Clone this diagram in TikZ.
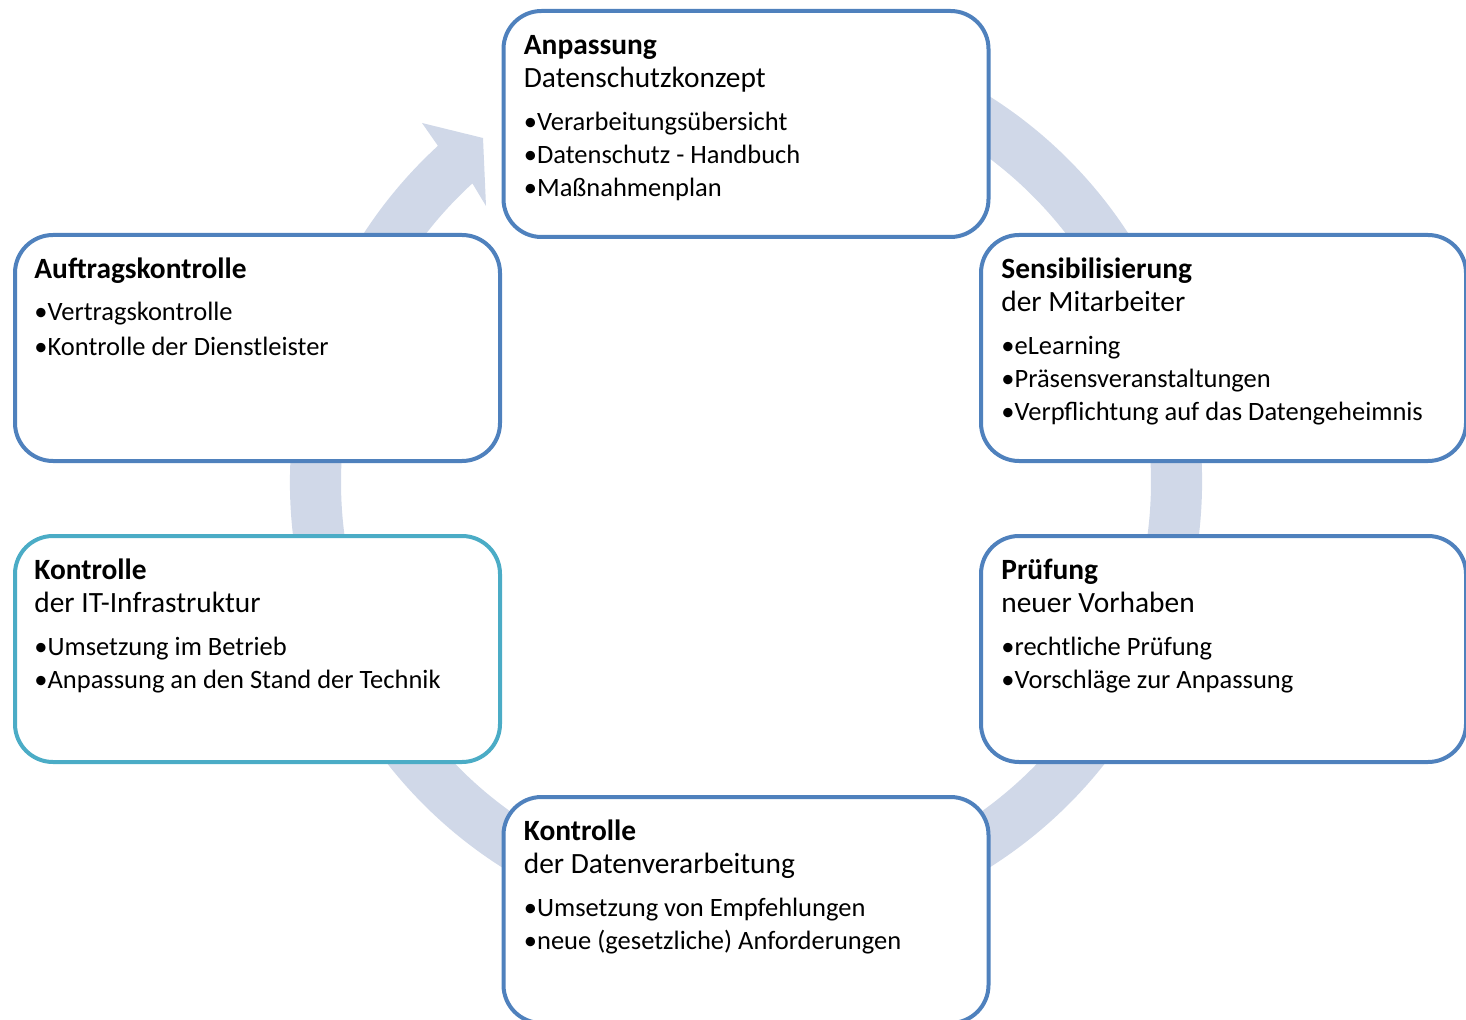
\documentclass[tikz,border=0pt]{standalone}
\usepackage{fontspec}
\setmainfont{Carlito}
\definecolor{kasten}{HTML}{4F81BD}
\definecolor{kastenit}{HTML}{4BACC6}
\definecolor{ring}{HTML}{D0D8E8}
\newcommand{\kopf}[1]{{\fontsize{14.7pt}{16.5pt}\selectfont #1}}

\begin{document}
\begin{tikzpicture}[x=0.5pt, y=0.5pt,
	stufe/.style={draw=kasten, line width=2pt, rounded corners=19pt, fill=white,
		minimum width=242.5pt, minimum height=113pt, inner sep=0pt, outer sep=0pt},
	inhalt/.style={anchor=north west, inner sep=0pt, align=left,
		font=\fontsize{13.25pt}{16.5pt}\selectfont}]
	\useasboundingbox (0,0) rectangle (1466,1019);
	\coordinate (M) at (746,537);
	\fill[ring] ([shift={(80:456)}]M) arc[start angle=80, end angle=-227.5, radius=456]
		-- (422,896) -- (483,881) -- (486,813)
		-- ([shift={(-227.5:405)}]M) arc[start angle=-227.5, end angle=80, radius=405] -- cycle;

	\node (anp)   at ( 746.0, 895)	[stufe]			{};
	\node (sens)  at (1223.5, 671)	[stufe]			{};
	\node (pruef) at (1223.5, 370)	[stufe]			{};
	\node (kontr) at ( 746.0, 109)	[stufe]			{};
	\node (itk)   at ( 257.5, 370)	[stufe, draw=kastenit]	{};
	\node (auftr) at ( 257.5, 671)	[stufe]			{};

	\node (anp-t)   at ([xshift=10pt, yshift=-9.95pt]anp.north west)	[inhalt]
		{\strut\kopf{\textbf{Anpassung}}\\\kopf{Datenschutzkonzept}\\[5pt]•Verarbeitungsübersicht\\•Datenschutz - Handbuch\\•Maßnahmenplan};
	\node (sens-t)  at ([xshift=10pt, yshift=-9.95pt]sens.north west)	[inhalt]
		{\strut\kopf{\textbf{Sensibilisierung}}\\\kopf{der Mitarbeiter}\\[5pt]•eLearning\\•Präsensveranstaltungen\\•Verpflichtung auf das Datengeheimnis};
	\node (pruef-t) at ([xshift=10pt, yshift=-9.95pt]pruef.north west)	[inhalt]
		{\strut\kopf{\textbf{Prüfung}}\\\kopf{neuer Vorhaben}\\[5pt]•rechtliche Prüfung\\•Vorschläge zur Anpassung};
	\node (kontr-t) at ([xshift=10pt, yshift=-9.95pt]kontr.north west)	[inhalt]
		{\strut\kopf{\textbf{Kontrolle}}\\\kopf{der Datenverarbeitung}\\[5pt]•Umsetzung von Empfehlungen\\•neue (gesetzliche) Anforderungen};
	\node (itk-t)   at ([xshift=9.5pt, yshift=-9.95pt]itk.north west)	[inhalt]
		{\strut\kopf{\textbf{Kontrolle}}\\\kopf{der IT-Infrastruktur}\\[5pt]•Umsetzung im Betrieb\\•Anpassung an den Stand der Technik};
	\node (auftr-t) at ([xshift=9.5pt, yshift=-9.95pt]auftr.north west)	[inhalt]
		{\strut\kopf{\textbf{Auftragskontrolle}}\\[4.5pt]•Vertragskontrolle\\[1pt]•Kontrolle der Dienstleister};
\end{tikzpicture}
\end{document}
